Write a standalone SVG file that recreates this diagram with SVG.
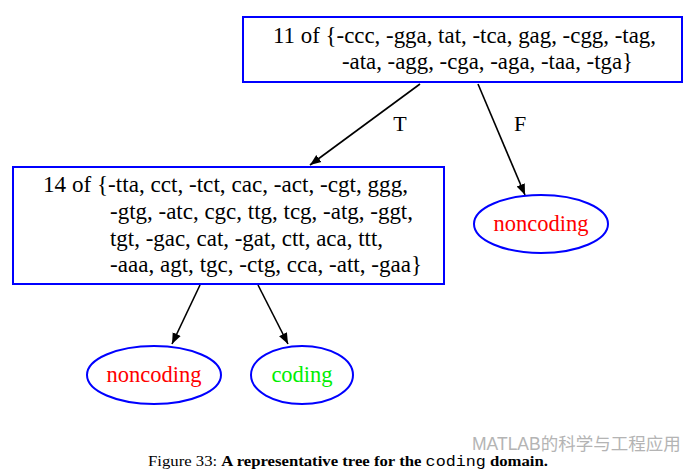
<svg xmlns="http://www.w3.org/2000/svg" width="692" height="476" viewBox="0 0 692 476">
<defs>
<style>
.box{fill:#fff;stroke:#0000ff;stroke-width:2}
.ell{fill:#fff;stroke:#0000ff;stroke-width:2}
.t{font-family:"Liberation Serif","Times New Roman",serif;font-size:22.5px;fill:#000}
.leaf{font-family:"Liberation Serif","Times New Roman",serif;font-size:22.5px;text-anchor:middle}
.edge{stroke:#000;stroke-width:1.6;fill:none;marker-end:url(#ah)}
.lbl{font-family:"Liberation Serif","Times New Roman",serif;font-size:22px;fill:#000;text-anchor:middle}
.cap{font-family:"Liberation Serif","Times New Roman",serif;font-size:15px;fill:#000}
.wm{font-family:"Liberation Sans","Noto Sans CJK SC",sans-serif;font-size:17.5px;fill:#b4b4b4}
</style>
<marker id="ah" viewBox="0 0 10 10" refX="10" refY="5" markerWidth="11" markerHeight="11" markerUnits="userSpaceOnUse" orient="auto">
<path d="M0,1 L10,5 L0,9 Z" fill="#000"/>
</marker>
</defs>
<rect width="692" height="476" fill="#fff"/>
<g id="connectors">
<path class="edge" d="M420,84 L310,165"/>
<path class="edge" d="M478,84 L525,195"/>
<path class="edge" d="M200,285 L172,344"/>
<path class="edge" d="M258,285 L288,344"/>
<text class="lbl" x="400" y="131">T</text>
<text class="lbl" x="520" y="131">F</text>
</g>
<g id="n1">
<rect class="box" x="243" y="17" width="439" height="65"/>
<text class="t" x="273" y="43" textLength="383" lengthAdjust="spacingAndGlyphs">11 of {-ccc, -gga, tat, -tca, gag, -cgg, -tag,</text>
<text class="t" x="342" y="69" textLength="291" lengthAdjust="spacingAndGlyphs">-ata, -agg, -cga, -aga, -taa, -tga}</text>
</g>
<g id="n2">
<rect class="box" x="13" y="167" width="431" height="117"/>
<text class="t" x="43" y="192" textLength="365" lengthAdjust="spacingAndGlyphs">14 of {-tta, cct, -tct, cac, -act, -cgt, ggg,</text>
<text class="t" x="110" y="219" textLength="303" lengthAdjust="spacingAndGlyphs">-gtg, -atc, cgc, ttg, tcg, -atg, -ggt,</text>
<text class="t" x="110" y="246" textLength="273" lengthAdjust="spacingAndGlyphs">tgt, -gac, cat, -gat, ctt, aca, ttt,</text>
<text class="t" x="110" y="272" textLength="312" lengthAdjust="spacingAndGlyphs">-aaa, agt, tgc, -ctg, cca, -att, -gaa}</text>
</g>
<g id="n3">
<ellipse class="ell" cx="541" cy="224" rx="67" ry="29"/>
<text class="leaf" x="541" y="231" fill="#ff0000">noncoding</text>
</g>
<g id="n4">
<ellipse class="ell" cx="154" cy="375" rx="67" ry="29"/>
<text class="leaf" x="154" y="382" fill="#ff0000">noncoding</text>
</g>
<g id="n5">
<ellipse class="ell" cx="302" cy="375" rx="51" ry="29"/>
<text class="leaf" x="302" y="382" fill="#00ee00">coding</text>
</g>
<g id="caption">
<text class="cap" x="148" y="466" textLength="400" lengthAdjust="spacingAndGlyphs">Figure 33: <tspan font-weight="bold">A representative tree for the</tspan> <tspan font-family="'Liberation Mono',monospace">coding</tspan> <tspan font-weight="bold">domain.</tspan></text>
<text class="wm" x="472" y="450">MATLAB的科学与工程应用</text>
</g>
</svg>
